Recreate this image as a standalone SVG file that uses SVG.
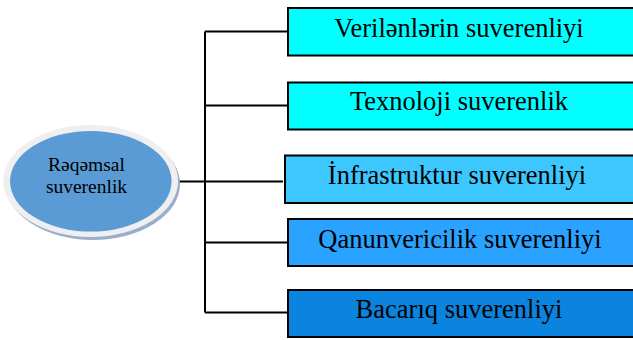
<svg xmlns="http://www.w3.org/2000/svg" width="633" height="340" viewBox="0 0 633 340">
<style>
.box{stroke:#000;stroke-width:2}
.lbl{font-family:"Liberation Serif","Times New Roman",serif;font-size:26.5px;fill:#000;text-anchor:middle}
.rlbl{font-family:"Liberation Serif","Times New Roman",serif;font-size:19.5px;fill:#000;text-anchor:middle}
.conn{stroke:#000;stroke-width:2;fill:none}
</style>
<rect width="633" height="340" fill="#fff"/>
<g id="connectors">
<path class="conn" d="M205,31.5 V312.5 M205,31.5 H288 M205,105.5 H288 M176,181.5 H283 M205,242.5 H288 M205,312.5 H288"/>
</g>
<g id="root">
<ellipse cx="93" cy="184" rx="87" ry="56" fill="#9aaecb"/>
<ellipse cx="90.7" cy="181" rx="87.4" ry="56" fill="#efefef"/>
<ellipse cx="90.8" cy="181.3" rx="80.8" ry="50.3" fill="#5b9bd5"/>
<text class="rlbl" x="86.5" y="170.5">Rəqəmsal</text>
<text class="rlbl" x="86.5" y="192.5">suverenlik</text>
</g>
<g id="n1">
<rect class="box" x="288" y="8" width="346" height="47.5" fill="#00ffff"/>
<text class="lbl" x="459" y="36.7">Verilənlərin suverenliyi</text>
</g>
<g id="n2">
<rect class="box" x="288" y="82.5" width="346" height="47" fill="#00ffff"/>
<text class="lbl" x="459" y="110">Texnoloji suverenlik</text>
</g>
<g id="n3">
<rect class="box" x="285" y="155.5" width="349" height="47.5" fill="#3cc8ff"/>
<text class="lbl" x="457" y="184.3">İnfrastruktur suverenliyi</text>
</g>
<g id="n4">
<rect class="box" x="288" y="219" width="346" height="47" fill="#29a3ff"/>
<text class="lbl" x="460" y="247.7">Qanunvericilik suverenliyi</text>
</g>
<g id="n5">
<rect class="box" x="288" y="290" width="346" height="47" fill="#0b84e0"/>
<text class="lbl" x="459" y="318.3">Bacarıq suverenliyi</text>
</g>
</svg>
